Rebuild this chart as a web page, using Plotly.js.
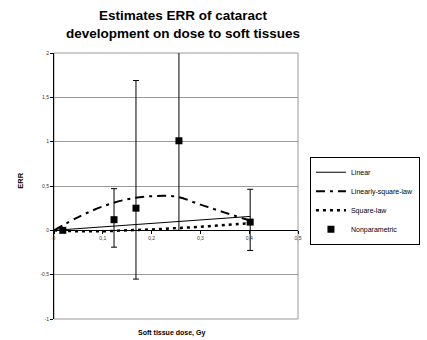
<!DOCTYPE html>
<html>
<head>
<meta charset="utf-8">
<script src="https://cdn.plot.ly/plotly-3.0.1.min.js"></script>
<style>html,body{margin:0;padding:0;background:#fff;}#chart{width:427px;height:340px;}</style>
</head>
<body>
<div id="chart"></div>
<script>
// Linear model
var linearX = [0, 0.1, 0.2, 0.3, 0.402];
var linearY = [0, 0.04, 0.078, 0.117, 0.157];
// Linearly-square-law model
var lsqX = [0, 0.05, 0.1, 0.15, 0.2, 0.25, 0.3, 0.35, 0.402];
var lsqY = [0, 0.15, 0.27, 0.35, 0.385, 0.38, 0.29, 0.2, 0.11];
// Square-law model
var sqX = [0, 0.05, 0.1, 0.15, 0.2, 0.25, 0.3, 0.35, 0.402];
var sqY = [0, -0.01, -0.01, 0.0, 0.01, 0.025, 0.04, 0.06, 0.08];
// Nonparametric estimates with error bars
var npX = [0.018, 0.123, 0.168, 0.256, 0.402];
var npY = [0.0, 0.12, 0.25, 1.01, 0.093];
var npErrPlus = [0.0, 0.35, 1.44, 1.52, 0.37];
var npErrMinus = [0.0, 0.31, 0.80, 1.01, 0.32];

var yTicks = [-1, -0.5, 0, 0.5, 1, 1.5, 2];
var xTicks = [0, 0.1, 0.2, 0.3, 0.4, 0.5];

var FONT = "Liberation Sans, Arial, sans-serif";

var traces = [
  {x: linearX, y: linearY, name: "Linear", mode: "lines",
   line: {color: "#000", width: 1}},
  {x: lsqX, y: lsqY, name: "Linearly-square-law", mode: "lines",
   line: {color: "#000", width: 2, dash: "9px,5px,3px,5px", shape: "spline"}},
  {x: sqX, y: sqY, name: "Square-law", mode: "lines",
   line: {color: "#000", width: 2.5, dash: "3px,4px", shape: "spline"}},
  {x: npX, y: npY, name: "Nonparametric", mode: "markers",
   marker: {symbol: "square", color: "#000", size: 7},
   error_y: {type: "data", symmetric: false, array: npErrPlus, arrayminus: npErrMinus,
             color: "#000", thickness: 1, width: 3}}
];

var layout = {
  width: 427, height: 340,
  margin: {l: 54, r: 129, t: 53, b: 21, pad: 0, autoexpand: false},
  paper_bgcolor: "#fff", plot_bgcolor: "#fff",
  separators: ", ",
  font: {family: FONT, color: "#000"},
  xaxis: {range: [0, 0.5], tickvals: xTicks, ticktext: xTicks.map(function(v){return String(v).replace('.', ',');}),
          anchor: "free", position: 1/3, automargin: false,
          showline: true, linecolor: "#000", linewidth: 1,
          ticks: "outside", ticklen: 3, tickcolor: "#000", tickwidth: 1,
          tickfont: {size: 5, color: "#333", family: FONT},
          showgrid: false, zeroline: false, fixedrange: true},
  yaxis: {range: [-1, 2], tickvals: yTicks, ticktext: yTicks.map(function(v){return String(v).replace('.', ',');}),
          automargin: false,
          showline: true, linecolor: "#000", linewidth: 1,
          ticks: "outside", ticklen: 3, tickcolor: "#000", tickwidth: 1,
          tickfont: {size: 5, color: "#333", family: FONT},
          showgrid: true, gridcolor: "#9a9a9a", gridwidth: 1,
          zeroline: false, fixedrange: true},
  shapes: [
    {type: "rect", xref: "x domain", yref: "y domain", x0: 0, x1: 1, y0: 0, y1: 1,
     line: {color: "#9a9a9a", width: 1}, layer: "below"}
  ],
  annotations: [
    {text: "<b>Estimates ERR of cataract<br>development on dose to soft tissues</b>",
     xref: "paper", yref: "paper", x: 0.529, y: 1.176, xanchor: "center", yanchor: "top",
     showarrow: false, align: "center",
     font: {size: 13.5, family: FONT, color: "#000"}},
    {text: "<b>Soft tissue dose, Gy</b>", xref: "paper", yref: "paper",
     x: 0.48, y: -0.053, xanchor: "center", yanchor: "middle", showarrow: false,
     font: {size: 7, family: FONT, color: "#000"}},
    {text: "<b>ERR</b>", xref: "paper", yref: "paper", textangle: -90,
     x: -0.135, y: 0.52, xanchor: "center", yanchor: "middle", showarrow: false,
     font: {size: 7.5, family: FONT, color: "#000"}}
  ],
  showlegend: true,
  legend: {x: 1.049, y: 0.61, xanchor: "left", yanchor: "top",
           bordercolor: "#000", borderwidth: 1, bgcolor: "#fff",
           font: {size: 7, family: FONT, color: "#000"},
           tracegroupgap: 0, itemwidth: 30}
};

Plotly.newPlot("chart", traces, layout, {displayModeBar: false, staticPlot: true});
</script>
</body>
</html>
